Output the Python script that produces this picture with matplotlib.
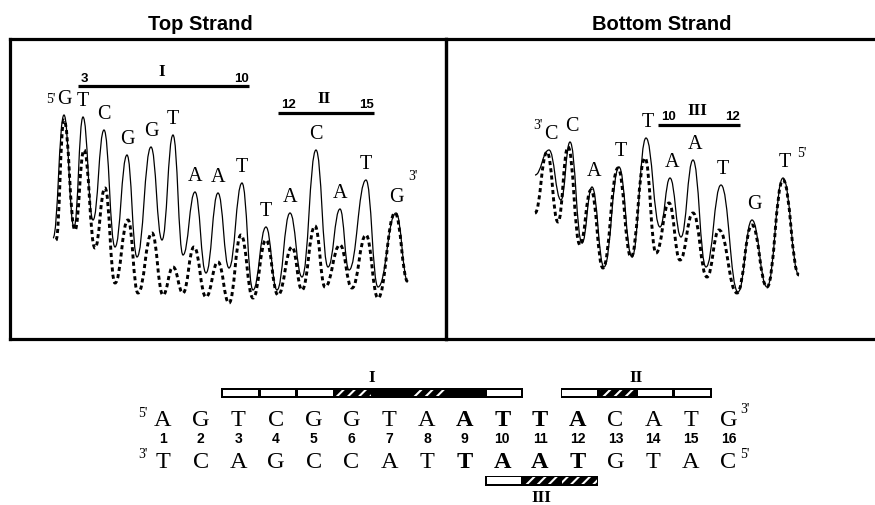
import matplotlib
matplotlib.use("Agg")
import matplotlib.pyplot as plt
from matplotlib.path import Path
from matplotlib.patches import PathPatch, Rectangle

plt.rcParams['hatch.linewidth'] = 1.5

# ---------------- data ----------------
# Top strand trace: alternating extremes (start, peak, trough, peak, ..., end); x = migration, y = signal
top_solid_x = [53, 64, 74, 83, 93, 104, 115, 127, 137, 151, 162, 173, 183, 195, 206, 218, 229,
               242, 253, 266, 277, 290, 302, 316, 328, 340, 349, 366, 378, 396, 408]
top_solid_y = [101, 224, 112, 222, 119, 209, 92, 184, 82, 192, 99, 204, 84, 147, 66, 146, 71,
               156, 49, 112, 49, 126, 62, 189, 72, 130, 69, 159, 52, 126, 57]
top_dash_x = [56, 64, 75, 84, 95, 105, 115, 128, 138, 152, 163, 173, 183, 194, 206, 218, 229,
              241, 253, 266, 278, 292, 302, 315, 325, 340, 352, 366, 378, 395, 408]
top_dash_y = [99, 219, 109, 189, 91, 151, 56, 119, 46, 106, 44, 72, 46, 92, 42, 77, 36,
              104, 41, 99, 44, 92, 49, 113, 52, 94, 51, 104, 41, 126, 57]
top_bases = list("GTCGGTAATTACATG")

# Bottom strand trace
bot_solid_x = [535, 549, 561, 570, 582, 592, 604, 619, 632, 646, 660, 670, 681, 693, 706, 721,
               738, 752, 767, 783, 799]
bot_solid_y = [164, 189, 139, 197, 96, 152, 72, 172, 82, 201, 112, 161, 102, 179, 72, 154,
               47, 119, 52, 161, 64]
bot_dash_x = [535, 547, 558, 568, 580, 591, 603, 618, 631, 645, 656, 669, 680, 693, 707, 719,
              737, 752, 767, 783, 799]
bot_dash_y = [126, 187, 117, 192, 94, 149, 71, 171, 82, 181, 86, 136, 79, 126, 62, 109,
              46, 114, 52, 159, 64]
bot_bases = list("CCATTAATGT")

# Footprint bars over the traces
top_bar_names = ["I", "II"]
top_bar_from = ["3", "12"]
top_bar_to = ["10", "15"]
top_bar_x0 = [78, 278]
top_bar_x1 = [249, 374]
top_bar_level = [253, 226]
bot_bar_names = ["III"]
bot_bar_from = ["10"]
bot_bar_to = ["12"]
bot_bar_x0 = [658]
bot_bar_x1 = [740]
bot_bar_level = [214]

# Sequence
seq_top = "AGTCGGTAATTACATG"
seq_bottom = "TCAGCCATTAATGTAC"
bold_top = [9, 10, 11, 12]
bold_bottom = [9, 10, 11, 12]

# Protected sites: positions and cell type (w = open, h = hatched, k = solid)
site_I_pos = [3, 4, 5, 6, 7, 8, 9, 10]
site_I_code = ['w', 'w', 'w', 'h', 'k', 'h', 'k', 'w']
site_II_pos = [12, 13, 14, 15]
site_II_code = ['w', 'h', 'w', 'w']
site_III_pos = [10, 11, 12]
site_III_code = ['w', 'h', 'h']

# ---------------- figure ----------------
W, H = 875, 505
fig = plt.figure(figsize=(W / 100, H / 100), dpi=100)

serif = 'Liberation Serif'
sans = 'Liberation Sans'


def smooth_path(xs, ys, k=0.45):
    verts = [(xs[0], ys[0])]
    codes = [Path.MOVETO]
    for i in range(1, len(xs)):
        x0, y0, x1, y1 = xs[i - 1], ys[i - 1], xs[i], ys[i]
        dx = x1 - x0
        verts += [(x0 + dx * k, y0), (x1 - dx * k, y1), (x1, y1)]
        codes += [Path.CURVE4] * 3
    return Path(verts, codes)


def panel(rect, xlim, sx, sy, dx, dy, bases, names, nfrom, nto, bx0, bx1, blev,
          prime_l, prime_r, pl_off, pr_off, lab_dx):
    ax = fig.add_axes(rect)
    ax.set_xlim(*xlim)
    ax.set_ylim(0, 300)
    ax.set_xticks([])
    ax.set_yticks([])
    ax.patch.set_visible(False)
    for s in ax.spines.values():
        s.set_linewidth(2.3)
    ax.add_patch(PathPatch(smooth_path(dx, dy), fill=False, lw=2.1, color='black',
                           linestyle=(0, (1.4, 1.1)), capstyle='butt'))
    ax.add_patch(PathPatch(smooth_path(sx, sy), fill=False, lw=0.9, color='black'))
    px = sx[1::2][:len(bases)]
    py = sy[1::2][:len(bases)]
    for b, x, y in zip(bases, px, py):
        ax.text(x + lab_dx, y + 11, b, ha='center', va='baseline', family=serif, fontsize=14.5)
    ax.text(px[0] + lab_dx - 8, py[0] + 11 + pl_off, prime_l, ha='right', va='baseline',
            family=serif, fontsize=10)
    ax.text(px[-1] + lab_dx + 12, py[-1] + 11 + pr_off, prime_r, ha='left', va='baseline',
            family=serif, fontsize=10)
    for nm, a, b, x0, x1, lv in zip(names, nfrom, nto, bx0, bx1, blev):
        ax.plot([x0, x1], [lv, lv], color='black', lw=2.3, solid_capstyle='butt')
        ax.text(x0 + 3, lv + 4.5, a, ha='left', va='baseline', family=sans,
                fontweight='bold', fontsize=9.5)
        ax.text(x1, lv + 4.5, b, ha='right', va='baseline', family=sans,
                fontweight='bold', fontsize=9.5)
        ax.text((x0 + x1) / 2 - 2, lv + 10, nm, ha='center', va='baseline', family=serif,
                fontweight='bold', fontsize=12.5)
    return ax


axL = panel([10 / W, (H - 339) / H, 436 / W, 300 / H], (10, 446),
            top_solid_x, top_solid_y, top_dash_x, top_dash_y, top_bases,
            top_bar_names, top_bar_from, top_bar_to, top_bar_x0, top_bar_x1, top_bar_level,
            "5'", "3'", 1, 22, 0)
axR = panel([446 / W, (H - 339) / H, 429 / W, 300 / H], (446, 875),
            bot_solid_x, bot_solid_y, bot_dash_x, bot_dash_y, bot_bases,
            bot_bar_names, bot_bar_from, bot_bar_to, bot_bar_x0, bot_bar_x1, bot_bar_level,
            "3'", "5'", 10, 10, 2)
axR.spines['right'].set_visible(False)

fig.text(200 / W, 1 - 25 / H, "Top Strand", ha='center', va='center', family=sans,
         fontweight='bold', fontsize=14.5)
fig.text(662 / W, 1 - 25 / H, "Bottom Strand", ha='center', va='center', family=sans,
         fontweight='bold', fontsize=14.5)

# ---------------- sequence diagram ----------------
step = 37.7
x_first = 163
axS = fig.add_axes([0, 0, 1, 150 / H])
axS.set_xlim(1 - x_first / step, 1 + (W - x_first) / step)
axS.set_ylim(H, H - 150)
axS.axis('off')

for i, (t, b) in enumerate(zip(seq_top, seq_bottom), start=1):
    axS.text(i, 426, t, ha='center', va='baseline', family=serif, fontsize=17.5,
             fontweight='bold' if i in bold_top else 'normal')
    axS.text(i, 443, str(i), ha='center', va='baseline', family=sans, fontsize=10,
             fontweight='bold')
    axS.text(i, 468, b, ha='center', va='baseline', family=serif, fontsize=17.5,
             fontweight='bold' if i in bold_bottom else 'normal')
n = len(seq_top)
axS.text(1 - 0.4, 417, "5'", ha='right', va='baseline', family=serif, fontsize=10)
axS.text(1 - 0.4, 458, "3'", ha='right', va='baseline', family=serif, fontsize=10)
axS.text(n + 0.3, 413, "3'", ha='left', va='baseline', family=serif, fontsize=10)
axS.text(n + 0.3, 458, "5'", ha='left', va='baseline', family=serif, fontsize=10)


def site(pos, code, yc, name, name_y):
    h = 10
    x0 = pos[0] - 0.45
    x1 = pos[-1] + 0.55
    axS.add_patch(Rectangle((x0, yc - h / 2), x1 - x0, h, facecolor='black',
                            edgecolor='none'))
    ix = 1.6 / step
    iy = 1.8
    for p, c in zip(pos, code):
        if c == 'k':
            continue
        r = Rectangle((p - 0.45 + ix, yc - h / 2 + iy), 1 - 2 * ix, h - 2 * iy,
                      facecolor='white' if c == 'w' else 'black',
                      edgecolor='white' if c == 'h' else 'none',
                      hatch='///' if c == 'h' else None, lw=0)
        axS.add_patch(r)
    axS.text((x0 + x1) / 2, name_y, name, ha='center', va='baseline', family=serif,
             fontweight='bold', fontsize=12.5)


site(site_I_pos, site_I_code, 393, "I", 382)
site(site_II_pos, site_II_code, 393, "II", 382)
site(site_III_pos, site_III_code, 480.5, "III", 502)

fig.savefig("out.png", dpi=100)
